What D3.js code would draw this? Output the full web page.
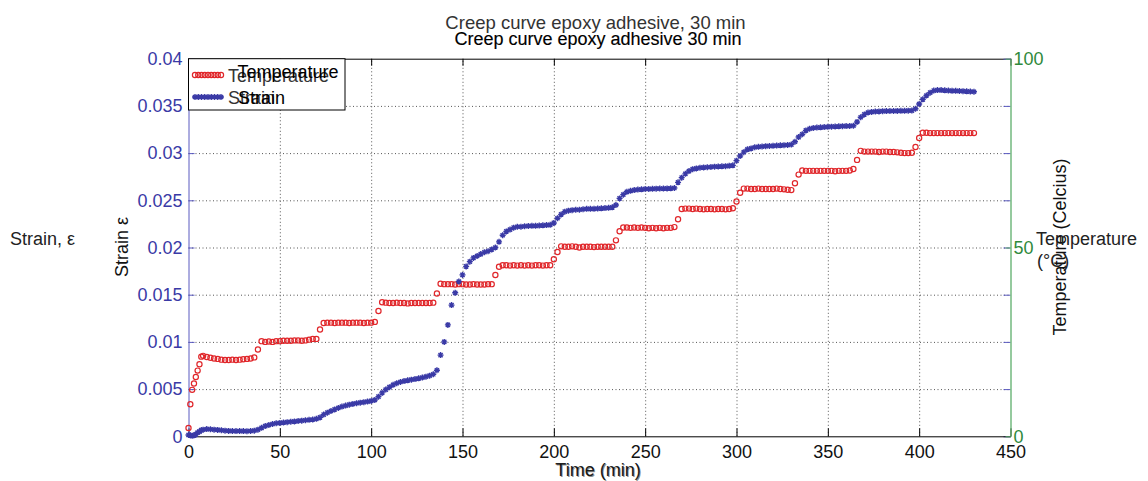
<!DOCTYPE html>
<html><head><meta charset="utf-8">
<script src="https://cdn.jsdelivr.net/npm/d3@7"></script>
<style>
body{margin:0;background:#fff;}
text{font-family:"Liberation Sans",Arial,sans-serif;}
</style></head>
<body><svg id="chart" width="1148" height="481"></svg>
<script>
// ---- data ----
const time = [0,1,2,3,4,5,6,7,8,
 10,12,14,16,18,20,22,24,26,28,
 30,32,34,36,38,40,42,44,46,48,
 50,52,54,56,58,60,62,64,66,68,
 70,72,74,76,78,80,82,84,86,88,
 90,92,94,96,98,100,102,104,106,108,
 110,112,114,116,118,120,122,124,126,128,
 130,132,134,136,138,140,142,144,146,148,
 150,152,154,156,158,160,162,164,166,168,
 170,172,174,176,178,180,182,184,186,188,
 190,192,194,196,198,200,202,204,206,208,
 210,212,214,216,218,220,222,224,226,228,
 230,232,234,236,238,240,242,244,246,248,
 250,252,254,256,258,260,262,264,266,268,
 270,272,274,276,278,280,282,284,286,288,
 290,292,294,296,298,300,302,304,306,308,
 310,312,314,316,318,320,322,324,326,328,
 330,332,334,336,338,340,342,344,346,348,
 350,352,354,356,358,360,362,364,366,368,
 370,372,374,376,378,380,382,384,386,388,
 390,392,394,396,398,400,402,404,406,408,
 410,412,414,416,418,420,422,424,426,428,
 430];
const strain = [0.00014,0.0001,0.00005,0.0001,0.0002,0.0004,0.0005,0.00065,0.0007,
 0.00077,0.00075,0.0007,0.00068,0.00064,0.0006,0.00057,0.00056,0.00055,0.00056,
 0.00055,0.00054,0.00056,0.0006,0.0007,0.0009,0.00108,0.0012,0.0013,0.00138,
 0.00142,0.00146,0.0015,0.00154,0.00158,0.00162,0.00166,0.0017,0.00174,0.00178,
 0.00185,0.002,0.0023,0.0025,0.00268,0.00285,0.003,0.00315,0.00325,0.00335,
 0.00343,0.0035,0.00356,0.00362,0.00368,0.00375,0.00385,0.0042,0.0046,0.00495,
 0.0052,0.00545,0.00562,0.00575,0.00585,0.00593,0.006,0.00606,0.00614,0.00622,
 0.00632,0.00642,0.00657,0.007,0.0086,0.01,0.0118,0.0139,0.0152,0.0164,
 0.0171,0.018,0.0185,0.0189,0.0191,0.0193,0.0195,0.0196,0.0198,0.02,
 0.0206,0.0213,0.0217,0.0219,0.0221,0.0222,0.0222,0.02225,0.02228,0.0223,
 0.0223,0.02232,0.02235,0.02238,0.0224,0.0226,0.0231,0.0235,0.0238,0.0239,
 0.02395,0.024,0.024,0.02405,0.0241,0.0241,0.0241,0.02412,0.02415,0.02418,
 0.0242,0.02426,0.0245,0.0252,0.0256,0.0259,0.026,0.02608,0.02614,0.02616,
 0.0262,0.0262,0.02622,0.02623,0.02624,0.02625,0.02626,0.02627,0.0263,0.0269,
 0.0274,0.0278,0.0281,0.0283,0.02838,0.02845,0.02848,0.0285,0.02853,0.02856,
 0.02858,0.0286,0.02862,0.02865,0.0287,0.0292,0.0297,0.0301,0.0304,0.0305,
 0.03062,0.03066,0.0307,0.03073,0.03075,0.03077,0.0308,0.03082,0.03084,0.03086,
 0.0309,0.0312,0.0317,0.032,0.0324,0.03258,0.03266,0.0327,0.03273,0.03276,
 0.03278,0.0328,0.03282,0.03284,0.03285,0.03286,0.03287,0.0329,0.0333,0.0338,
 0.0341,0.0343,0.03436,0.0344,0.03442,0.03444,0.03445,0.03446,0.03446,0.03447,
 0.03448,0.03448,0.03449,0.0345,0.0347,0.0352,0.0357,0.0361,0.0364,0.03662,
 0.03668,0.03668,0.03665,0.03662,0.0366,0.0366,0.03658,0.03656,0.03654,0.03652,
 0.0365];
const temperature = [2.2,8.5,12.3,14.0,15.7,17.4,19.1,21.1,21.3,
 21.0,20.8,20.6,20.5,20.3,20.2,20.2,20.3,20.2,20.3,
 20.4,20.5,20.6,20.9,23.0,25.2,25.0,25.1,25.0,25.2,
 25.2,25.3,25.3,25.3,25.4,25.4,25.3,25.4,25.6,25.8,
 25.8,28.3,30.0,30.1,30.1,30.0,30.1,30.1,30.1,30.0,
 30.1,30.1,30.1,30.0,30.1,30.1,30.3,33.2,35.5,35.4,
 35.3,35.3,35.4,35.3,35.3,35.2,35.3,35.3,35.3,35.3,
 35.3,35.3,35.4,37.8,40.4,40.3,40.3,40.3,40.2,40.3,
 40.3,40.2,40.2,40.3,40.2,40.2,40.2,40.3,40.3,42.7,
 44.9,45.3,45.3,45.2,45.3,45.2,45.3,45.2,45.3,45.2,
 45.3,45.3,45.2,45.3,45.3,46.9,48.8,50.3,50.2,50.2,
 50.3,50.2,50.0,50.2,50.2,50.2,50.1,50.2,50.2,50.2,
 50.2,50.2,51.9,54.3,55.3,55.3,55.2,55.3,55.2,55.3,
 55.2,55.1,55.2,55.1,55.2,55.1,55.2,55.2,55.4,57.5,
 60.2,60.3,60.3,60.2,60.3,60.2,60.1,60.2,60.2,60.1,
 60.2,60.2,60.1,60.2,60.4,62.2,64.5,65.6,65.6,65.5,
 65.5,65.6,65.5,65.5,65.5,65.5,65.6,65.5,65.4,65.3,
 65.2,67.0,69.3,70.4,70.3,70.3,70.3,70.3,70.3,70.3,
 70.3,70.3,70.2,70.3,70.3,70.3,70.4,70.8,73.2,75.6,
 75.4,75.4,75.4,75.4,75.3,75.4,75.4,75.3,75.3,75.2,
 75.1,75.0,75.0,75.1,76.6,79.0,80.4,80.4,80.3,80.3,
 80.3,80.3,80.3,80.3,80.3,80.3,80.3,80.3,80.3,80.3,
 80.3];
const timeTicks = [0,50,100,150,200,250,300,350,400,450];
const timeTickLabels = ["0","50","100","150","200","250","300","350","400","450"];
const strainTicks = [0,0.005,0.01,0.015,0.02,0.025,0.03,0.035,0.04];
const strainTickLabels = ["0","0.005","0.01","0.015","0.02","0.025","0.03","0.035","0.04"];
const tempTicks = [0,50,100];
const tempTickLabels = ["0","50","100"];
const seriesNames = ["Temperature","Strain"];

// ---- drawing ----
const svg = d3.select("#chart");
const L = 188.5, R = 1010.5, T = 58.7, B = 436.3;
const x = d3.scaleLinear().domain([0,450]).range([L,R]);
const yS = d3.scaleLinear().domain([0,0.04]).range([B,T]);
const yT = d3.scaleLinear().domain([0,100]).range([B,T]);
const blue = "#3a3aa6", red = "#e0262a", green = "#2f8a3c", greenLine = "#5cae6a", axisBlue = "#5a5ac0";
const fs = 18;

// grid
const grid = svg.append("g");
grid.append("g").attr("transform",`translate(0,${B})`)
  .call(d3.axisBottom(x).tickValues(timeTicks.slice(1,-1)).tickSize(-(B-T)).tickFormat(""))
  .call(g=>g.select(".domain").remove())
  .call(g=>g.selectAll("line").attr("stroke","#555").attr("stroke-dasharray","1,2.5"));
grid.append("g").attr("transform",`translate(${L},0)`)
  .call(d3.axisLeft(yS).tickValues(strainTicks.slice(1,-1)).tickSize(-(R-L)).tickFormat(""))
  .call(g=>g.select(".domain").remove())
  .call(g=>g.selectAll("line").attr("stroke","#555").attr("stroke-dasharray","1,2.5"));

// top border & ticks
svg.append("g").attr("transform",`translate(0,${T})`)
  .call(d3.axisTop(x).tickValues(timeTicks).tickSize(-7).tickFormat("").tickSizeOuter(0))
  .call(g=>g.select(".domain").attr("stroke","#000"))
  .call(g=>g.selectAll("line").attr("stroke","#000"));
// right mirrored strain ticks
svg.append("g").attr("transform",`translate(${R},0)`)
  .call(d3.axisRight(yS).tickValues(strainTicks).tickSize(-7).tickFormat("").tickSizeOuter(0))
  .call(g=>g.select(".domain").remove())
  .call(g=>g.selectAll("line").attr("stroke",axisBlue));

// bottom axis
const xa = svg.append("g").attr("transform",`translate(0,${B})`)
  .call(d3.axisBottom(x).tickValues(timeTicks).tickSize(-8).tickPadding(9).tickSizeOuter(0)
    .tickFormat((d,i)=>timeTickLabels[i]));
xa.select(".domain").attr("stroke","#000");
xa.selectAll("line").attr("stroke","#000");
xa.selectAll("text").attr("font-size",fs).attr("fill","#111").attr("font-family","Liberation Sans, Arial, sans-serif");

// left axis
const ya = svg.append("g").attr("transform",`translate(${L},0)`)
  .call(d3.axisLeft(yS).tickValues(strainTicks).tickSize(-6).tickPadding(6).tickSizeOuter(0)
    .tickFormat((d,i)=>strainTickLabels[i]));
ya.select(".domain").attr("stroke",axisBlue);
ya.selectAll("line").attr("stroke",axisBlue);
ya.selectAll("text").attr("font-size",fs).attr("fill",blue).attr("font-family","Liberation Sans, Arial, sans-serif");

// right axis (temperature)
const ra = svg.append("g").attr("transform",`translate(${R},0)`)
  .call(d3.axisRight(yT).tickValues(tempTicks).tickSize(-5).tickPadding(3).tickSizeOuter(0)
    .tickFormat((d,i)=>tempTickLabels[i]));
ra.select(".domain").attr("stroke",greenLine).attr("stroke-width",1.3);
ra.selectAll("line").attr("stroke",greenLine);
ra.selectAll("text").attr("font-size",fs).attr("fill",green).attr("font-family","Liberation Sans, Arial, sans-serif");

// data marks
const starPath = s => `M${-s},0H${s}M0,${-s}V${s}M${-s*0.7},${-s*0.7}L${s*0.7},${s*0.7}M${-s*0.7},${s*0.7}L${s*0.7},${-s*0.7}`;
svg.append("g").selectAll("circle").data(time).join("circle")
  .attr("cx",(d)=>x(d)).attr("cy",(d,i)=>yT(temperature[i])).attr("r",2.6)
  .attr("fill","none").attr("stroke",red).attr("stroke-width",1.2);
svg.append("g").selectAll("path").data(time).join("path")
  .attr("transform",(d,i)=>`translate(${x(d)},${yS(strain[i])})`)
  .attr("d",starPath(3)).attr("stroke",blue).attr("stroke-width",1.4).attr("fill","none");

// legend
const lg = svg.append("g");
lg.append("rect").attr("x",L).attr("y",T).attr("width",345-L).attr("height",110-T)
  .attr("fill","#fff").attr("stroke","#000").attr("stroke-width",1);
const legX = d3.scaleLinear().domain([0,1]).range([195,221]);
const legSamples = [0,0.125,0.25,0.375,0.5,0.625,0.75,0.875,1];
lg.append("g").selectAll("circle").data(legSamples).join("circle")
  .attr("cx",d=>legX(d)).attr("cy",75).attr("r",2.6).attr("fill","none").attr("stroke",red).attr("stroke-width",1.2);
lg.append("g").selectAll("path").data(legSamples).join("path")
  .attr("transform",d=>`translate(${legX(d)},97)`).attr("d",starPath(3))
  .attr("stroke",blue).attr("stroke-width",1.4);
lg.append("text").attr("x",228).attr("y",82).attr("font-size",fs).attr("fill","#333").text(seriesNames[0]);
lg.append("text").attr("x",237.5).attr("y",78).attr("font-size",fs).attr("fill","#000").text(seriesNames[0]);
lg.append("text").attr("x",228).attr("y",104).attr("font-size",fs).attr("fill","#333").text(seriesNames[1]);
lg.append("text").attr("x",238).attr("y",103.5).attr("font-size",fs).attr("fill","#000").text(seriesNames[1]);

// titles
svg.append("text").attr("x",595.5).attr("y",28.5).attr("text-anchor","middle").attr("font-size",18.5)
  .attr("fill","#333").text("Creep curve epoxy adhesive, 30 min");
svg.append("text").attr("x",598).attr("y",44.5).attr("text-anchor","middle").attr("font-size",18)
  .attr("fill","#000").attr("stroke","#000").attr("stroke-width",0.15).text("Creep curve epoxy adhesive 30 min");

// axis labels
svg.append("text").attr("x",598).attr("y",476).attr("text-anchor","middle").attr("font-size",18)
  .attr("fill","#222").text("Time (min)");
svg.append("text").attr("x",599).attr("y",477).attr("text-anchor","middle").attr("font-size",18)
  .attr("fill","#000").attr("fill-opacity",0.45).text("Time (min)");
svg.append("text").attr("transform","translate(128,247) rotate(-90)").attr("text-anchor","middle")
  .attr("font-size",18).attr("fill","#111").text("Strain ε");
svg.append("text").attr("x",10).attr("y",245).attr("font-size",18).attr("fill","#222").text("Strain, ε");
svg.append("text").attr("transform","translate(1066,247) rotate(-90)").attr("text-anchor","middle")
  .attr("font-size",18).attr("fill","#111").text("Temperature (Celcius)");
svg.append("text").attr("x",1036).attr("y",245).attr("font-size",18).attr("fill","#222").text("Temperature");
svg.append("text").attr("x",1037).attr("y",267).attr("font-size",18).attr("fill","#222").text("(°C)");
</script></body></html>
